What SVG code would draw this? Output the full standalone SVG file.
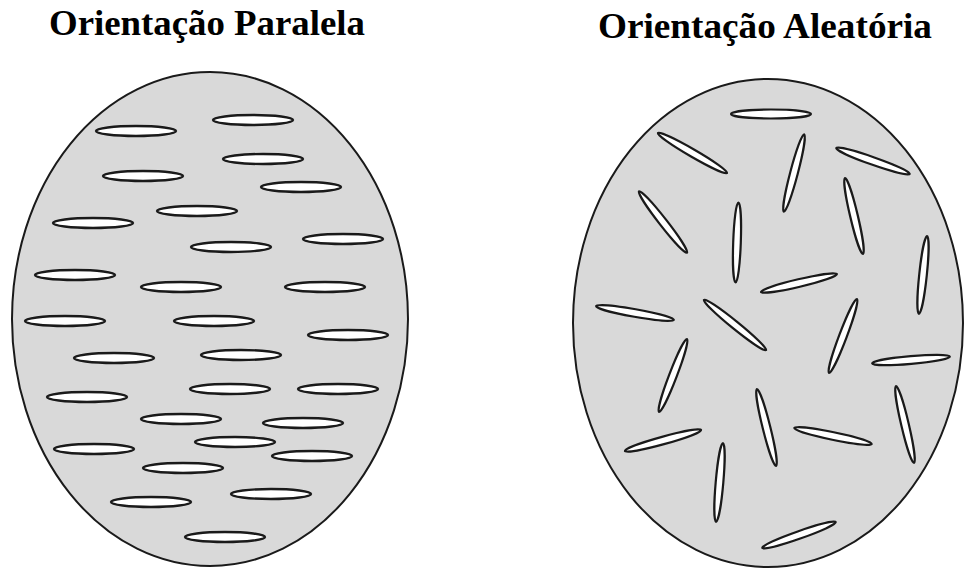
<svg xmlns="http://www.w3.org/2000/svg" width="965" height="570" viewBox="0 0 965 570">
<style>
.title{font-family:"Liberation Serif","Times New Roman",serif;font-weight:700;font-size:36px;fill:#000}
.body{fill:#d9d9d9;stroke:#1a1a1a;stroke-width:2}
.pf{fill:#fff;stroke:#1a1a1a;stroke-width:2.4}
.rf{fill:#fff;stroke:#1a1a1a;stroke-width:2.2}
</style>
<rect width="965" height="570" fill="#fff"/>
<text class="title" x="49" y="35" textLength="316" lengthAdjust="spacingAndGlyphs">Orientação Paralela</text>
<text class="title" x="598" y="38" textLength="334" lengthAdjust="spacingAndGlyphs">Orientação Aleatória</text>
<g id="parallel">
<ellipse class="body" cx="210" cy="319" rx="198" ry="247"/>
<g class="pf">
<ellipse cx="136" cy="131" rx="40" ry="5"/>
<ellipse cx="253" cy="120" rx="40" ry="5"/>
<ellipse cx="263" cy="159" rx="40" ry="5"/>
<ellipse cx="143" cy="176" rx="40" ry="5"/>
<ellipse cx="301" cy="187" rx="40" ry="5"/>
<ellipse cx="197" cy="211" rx="40" ry="5"/>
<ellipse cx="93" cy="223" rx="40" ry="5"/>
<ellipse cx="343" cy="239" rx="40" ry="5"/>
<ellipse cx="231" cy="247" rx="40" ry="5"/>
<ellipse cx="75" cy="275" rx="40" ry="5"/>
<ellipse cx="181" cy="287" rx="40" ry="5"/>
<ellipse cx="325" cy="287" rx="40" ry="5"/>
<ellipse cx="65" cy="321" rx="40" ry="5"/>
<ellipse cx="214" cy="321" rx="40" ry="5"/>
<ellipse cx="348" cy="335" rx="40" ry="5"/>
<ellipse cx="114" cy="358" rx="40" ry="5"/>
<ellipse cx="241" cy="355" rx="40" ry="5"/>
<ellipse cx="87" cy="397" rx="40" ry="5"/>
<ellipse cx="230" cy="389" rx="40" ry="5"/>
<ellipse cx="338" cy="389" rx="40" ry="5"/>
<ellipse cx="181" cy="419" rx="40" ry="5"/>
<ellipse cx="303" cy="423" rx="40" ry="5"/>
<ellipse cx="235" cy="442" rx="40" ry="5"/>
<ellipse cx="94" cy="449" rx="40" ry="5"/>
<ellipse cx="312" cy="456" rx="40" ry="5"/>
<ellipse cx="183" cy="468" rx="40" ry="5"/>
<ellipse cx="271" cy="494" rx="40" ry="5"/>
<ellipse cx="151" cy="502" rx="40" ry="5"/>
<ellipse cx="225" cy="537" rx="40" ry="5"/>
</g>
</g>
<g id="random">
<ellipse class="body" cx="768" cy="323" rx="195" ry="244"/>
<g class="rf">
<ellipse cx="771" cy="114" rx="40" ry="4.5"/>
<ellipse cx="0" cy="0" rx="40" ry="3.8" transform="translate(692.5,153) rotate(30)"/>
<ellipse cx="0" cy="0" rx="40" ry="3.8" transform="translate(794,173) rotate(-75.3)"/>
<ellipse cx="0" cy="0" rx="39" ry="3.8" transform="translate(873,161) rotate(19.4)"/>
<ellipse cx="0" cy="0" rx="39" ry="3.8" transform="translate(663,222) rotate(52)"/>
<ellipse cx="0" cy="0" rx="40" ry="3.8" transform="translate(737,242.5) rotate(92)"/>
<ellipse cx="0" cy="0" rx="39" ry="3.8" transform="translate(854,216) rotate(76.7)"/>
<ellipse cx="0" cy="0" rx="39" ry="3.8" transform="translate(923,275) rotate(96)"/>
<ellipse cx="0" cy="0" rx="39" ry="3.8" transform="translate(799,283) rotate(-13.3)"/>
<ellipse cx="0" cy="0" rx="39.5" ry="3.8" transform="translate(635,313) rotate(10)"/>
<ellipse cx="0" cy="0" rx="40" ry="3.8" transform="translate(735,325) rotate(39)"/>
<ellipse cx="0" cy="0" rx="39.5" ry="3.8" transform="translate(843,336) rotate(110.7)"/>
<ellipse cx="0" cy="0" rx="39" ry="3.8" transform="translate(673,375.5) rotate(111)"/>
<ellipse cx="0" cy="0" rx="39" ry="3.8" transform="translate(911,360) rotate(-5)"/>
<ellipse cx="0" cy="0" rx="39.5" ry="3.8" transform="translate(905,424.5) rotate(76.8)"/>
<ellipse cx="0" cy="0" rx="39.5" ry="3.8" transform="translate(766.5,427.5) rotate(76)"/>
<ellipse cx="0" cy="0" rx="39.5" ry="3.8" transform="translate(663,440.5) rotate(-15.4)"/>
<ellipse cx="0" cy="0" rx="39.5" ry="3.8" transform="translate(833,436) rotate(11.6)"/>
<ellipse cx="0" cy="0" rx="39.5" ry="3.8" transform="translate(719.5,482.5) rotate(95)"/>
<ellipse cx="0" cy="0" rx="39" ry="3.8" transform="translate(799,535) rotate(-19.4)"/>
</g>
</g>
</svg>
